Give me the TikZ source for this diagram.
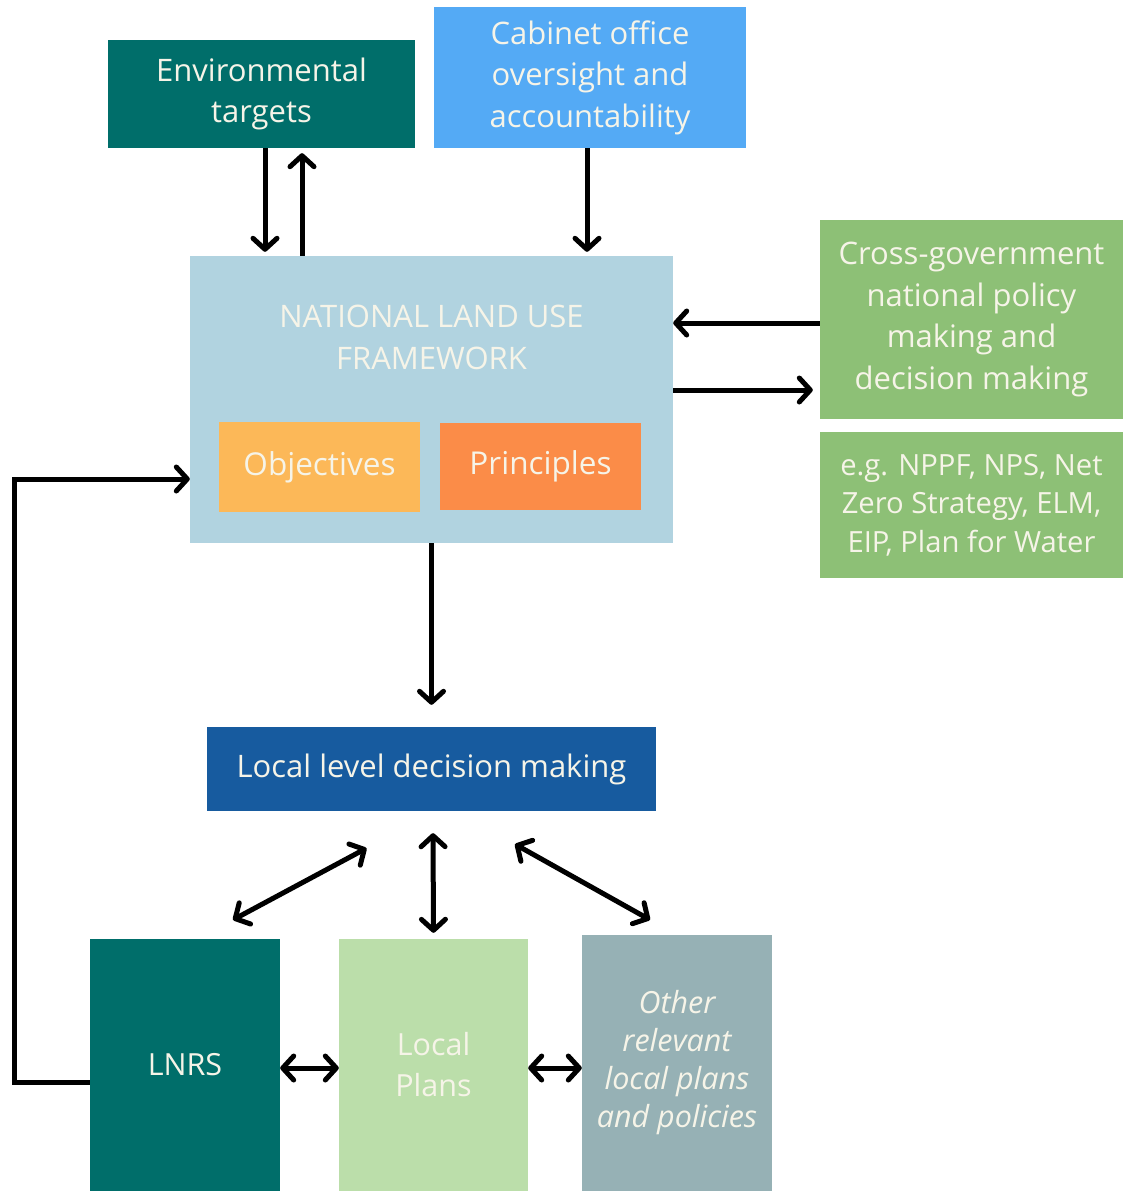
\documentclass[tikz,border=0pt]{standalone}
\usepackage{fontspec}
\setmainfont{Open Sans}
\usetikzlibrary{positioning, arrows.meta, calc}

\definecolor{envteal}{RGB}{0,110,106}
\definecolor{cabblue}{RGB}{84,170,245}
\definecolor{nlufblue}{RGB}{177,211,224}
\definecolor{objyellow}{RGB}{252,184,88}
\definecolor{prinorange}{RGB}{251,140,72}
\definecolor{govgreen}{RGB}{141,192,118}
\definecolor{localblue}{RGB}{23,91,159}
\definecolor{plangreen}{RGB}{187,222,170}
\definecolor{othergrey}{RGB}{150,177,181}
\definecolor{boxtext}{RGB}{246,244,232}

\tikzset{
    box/.style={inner sep=0pt, align=center, text=boxtext,
        font=\fontsize{31}{41.5}\selectfont},
    arr/.style={line width=5pt, -{Straight Barb[length=11pt, width=24pt, round]}},
    darr/.style={line width=5pt,
        {Straight Barb[length=11pt, width=24pt, round]}-{Straight Barb[length=11pt, width=24pt, round]}},
}

\begin{document}
\begin{tikzpicture}[x=1pt, y=-1pt]
    \useasboundingbox (0,0) rectangle (1123,1191);

    % top row
    \node[box, fill=envteal, minimum width=307pt, minimum height=108pt]
        (env) at (261.5,94) {Environmental\\targets};
    \node[box, fill=cabblue, minimum width=312pt, minimum height=141pt]
        (cab) at (590,77.5) {Cabinet office\\oversight and\\accountability};

    % framework
    \node[box, fill=nlufblue, minimum width=483pt, minimum height=287pt]
        (nluf) at (431.5,399.5) {};
    \node[box, font=\fontsize{31}{42}\selectfont] (nluftitle) at (431.5,337) {NATIONAL LAND USE\\FRAMEWORK};
    \node[box, fill=objyellow, minimum width=201pt, minimum height=90pt,
        font=\fontsize{31.5}{36}\selectfont]
        (obj) at (319.5,467) {Objectives};
    \node[box, fill=prinorange, minimum width=201pt, minimum height=87pt,
        font=\fontsize{31.5}{36}\selectfont]
        (prin) at (540.5,466.5) {Principles};

    % national policy
    \node[box, fill=govgreen, minimum width=303pt, minimum height=199pt,
        font=\fontsize{31}{41.7}\selectfont]
        (cross) at (971.5,319.5) {Cross-government\\national policy\\making and\\decision making};
    \node[box, fill=govgreen, minimum width=303pt, minimum height=146pt,
        font=\fontsize{29.2}{38.5}\selectfont]
        (eg) at (971.5,505) {e.g. NPPF, NPS, Net\\Zero Strategy, ELM,\\EIP, Plan for Water};

    % local level
    \node[box, fill=localblue, minimum width=449pt, minimum height=84pt,
        font=\fontsize{31}{36}\selectfont]
        (local) at (431.5,769) {Local level decision making};
    \node[box, fill=envteal, minimum width=190pt, minimum height=252pt,
        font=\fontsize{30.5}{41}\selectfont]
        (lnrs) at (185,1065) {LNRS};
    \node[box, fill=plangreen, minimum width=189pt, minimum height=252pt,
        font=\fontsize{30.5}{41}\selectfont]
        (lplans) at (433.5,1065) {Local\\Plans};
    \node[box, fill=othergrey, minimum width=190pt, minimum height=256pt,
        font=\fontsize{30.5}{38}\selectfont\itshape]
        (other) at (677,1063) {Other\\relevant\\local plans\\and policies};

    % connectors
    \draw[arr, shorten >=4pt] (env.south -| 265,0) -- (nluf.north -| 265,0);
    \draw[arr, shorten >=5pt] (nluf.north -| 302,0) -- (env.south -| 302,0);
    \draw[arr, shorten >=4pt] (cab.south -| 587,0) -- (nluf.north -| 587,0);
    \draw[arr] (cross.west |- 0,323) -- (nluf.east |- 0,323);
    \draw[arr, shorten >=7pt] (nluf.east |- 0,390) -- (cross.west |- 0,390);
    \draw[arr, shorten >=22pt] (nluf.south) -- (local.north);

    \coordinate (loop) at (14,479);
    \draw[arr, line join=miter] (lnrs.west |- 0,1082) -| (loop) -- (nluf.west |- loop);

    \draw[darr] ($(local.south)+(-65,37)$) -- ($(lnrs.north)+(48,-19)$);
    \draw[darr] ($(local.south)+(1.5,22)$) -- ($(lplans.north)+(0,-6)$);
    \draw[darr] ($(local.south)+(83.5,33)$) -- ($(other.north)+(-27,-15)$);
    \draw[darr] (lnrs.east |- 0,1068) -- (lplans.west |- 0,1068);
    \draw[darr] (lplans.east |- 0,1068) -- (other.west |- 0,1068);
\end{tikzpicture}
\end{document}
